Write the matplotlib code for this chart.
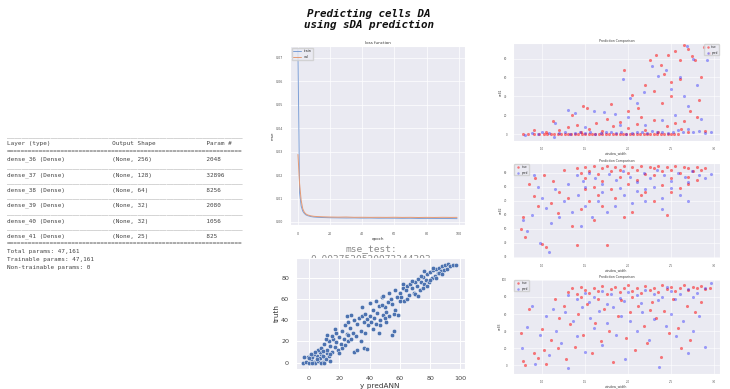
import matplotlib
matplotlib.use("Agg")
import matplotlib.pyplot as plt
import seaborn as sns

sns.set_style("darkgrid")
plt.rcParams['font.family'] = ['DejaVu Sans']

# ---- model summary (keras) ----
layer_names = ["dense_36 (Dense)", "dense_37 (Dense)", "dense_38 (Dense)",
               "dense_39 (Dense)", "dense_40 (Dense)", "dense_41 (Dense)"]
layer_shapes = ["(None, 256)", "(None, 128)", "(None, 64)",
                "(None, 32)", "(None, 32)", "(None, 25)"]
layer_params = ["2048", "32896", "8256", "2080", "1056", "825"]
summary_footer = ["Total params: 47,161", "Trainable params: 47,161",
                  "Non-trainable params: 0"]

# ---- loss history ----
epochs = [0, 1, 2, 3, 4, 5, 6, 7, 8, 10, 12, 15, 20, 25, 30, 35, 40, 45, 50,
          55, 60, 65, 70, 75, 80, 85, 90, 95, 99]
train_loss = [0.0735, 0.0125, 0.0068, 0.0046, 0.0036, 0.0030, 0.0027, 0.0025,
              0.0023, 0.0021, 0.0020, 0.0019, 0.0018, 0.00175, 0.0017, 0.00172,
              0.00165, 0.00168, 0.0016, 0.00162, 0.0016, 0.00155, 0.00158,
              0.0015, 0.00152, 0.0015, 0.00148, 0.00146, 0.00142]
val_loss = [0.0288, 0.0165, 0.0092, 0.0056, 0.0041, 0.0034, 0.0030, 0.0028,
            0.0026, 0.0024, 0.0023, 0.0022, 0.0021, 0.00205, 0.0021, 0.00198,
            0.002, 0.00196, 0.00198, 0.00195, 0.002, 0.00194, 0.00197, 0.0019,
            0.00196, 0.00192, 0.00198, 0.00194, 0.00196]
mse_test = "0.0037520520973344393"

# ---- prediction vs truth ----
y_pred_ann = [-4, -2, 0, 1, 2, 3, 4, 5, 6, 7, 8, 9, 10, -1, 0, 2, 3, 5, 7, 8, 11, 12, 6, 4, 9, -3, 1, 10, 13, 14,
              8, 10, 12, 13, 14, 15, 16, 17, 18, 19, 20, 11, 9, 15, 21, 22, 18, 23, 24, 14, 20, 26, 12, 17, 25,
              22, 24, 25, 26, 27, 28, 29, 30, 31, 32, 33, 28, 26, 30, 32, 35, 34, 36, 37, 38, 36, 38, 39, 37, 35, 34, 40, 41, 42, 40,
              42, 43, 44, 45, 46, 47, 48, 49, 50, 51, 52, 53, 54, 55, 56, 47, 49, 51, 53, 55, 57, 58, 59, 60, 44, 46, 57, 50, 48, 56,
              60, 61, 62, 63, 64, 65, 66, 67, 68, 69, 70, 71, 72, 73, 74, 75, 76, 77, 78, 79, 80, 81, 82, 83, 84, 85, 86, 87, 88, 89,
              90, 91, 92, 93, 95, 97, 65, 70, 75, 80, 72, 78, 84, 86, 68, 74, 76, 82, 62, 88]
truth = [0, 1, 0, 3, 5, 1, 0, 6, 2, 4, 8, 1, 5, 5, 4, 0, 8, 3, 10, 0, 3, 9, 12, 10, 6, 5, 8, 0, 6, 2,
         14, 18, 12, 20, 16, 10, 22, 15, 19, 12, 24, 22, 11, 25, 18, 14, 28, 22, 17, 8, 9, 20, 26, 32, 27,
         30, 35, 44, 38, 33, 45, 28, 40, 25, 36, 42, 22, 26, 10, 12, 44, 30, 38, 46, 41, 14, 13, 35, 28, 52, 20, 44, 38, 32, 56,
         50, 42, 58, 47, 53, 40, 62, 45, 52, 48, 57, 44, 60, 26, 30, 35, 63, 38, 66, 55, 50, 62, 45, 58, 36, 28, 68, 42, 54, 46,
         66, 62, 70, 58, 68, 72, 64, 74, 70, 66, 76, 72, 79, 68, 76, 81, 74, 78, 83, 76, 85, 80, 87, 82, 88, 84, 89, 86, 91, 87,
         92, 88, 93, 91, 92, 92, 60, 65, 70, 78, 63, 72, 80, 84, 77, 82, 86, 89, 74, 83]

# ---- prediction comparison panels (window_width, value) ----
cmp1_true = ([(x, 0) for x in [0.78, 0.84, 0.9, 0.96, 1.02, 1.06, 1.1, 1.14, 1.18, 1.22, 1.26, 1.3, 1.34, 1.38, 1.42,
                                 1.46, 1.5, 1.54, 1.58, 1.62, 1.66, 1.7, 1.74, 1.78, 1.82, 1.86, 1.9, 1.94, 1.98, 2.02,
                                 2.06, 2.1, 2.14, 2.18, 2.22, 2.26, 2.3, 2.34, 2.38, 2.42, 2.46, 2.5, 2.54, 2.58]]
             + [(1.12, 14), (1.2, 5), (1.3, 8), (1.4, 10), (1.55, 6), (1.63, 12), (1.7, 4), (1.82, 9), (1.9, 13),
                (2.0, 7), (2.1, 11), (2.2, 5), (2.3, 15), (2.45, 9), (2.55, 12), (2.62, 6), (2.7, 3), (2.8, 18),
                (2.9, 4), (0.9, 5), (1.05, 2), (1.45, 3), (1.75, 16), (2.15, 18), (2.35, 3), (2.65, 14),
                (1.35, 20), (1.48, 30), (1.52, 28), (1.8, 32), (1.95, 68), (2.05, 42), (2.12, 28), (2.2, 52),
                (2.25, 78), (2.32, 84), (2.38, 73), (2.42, 64), (2.47, 84), (2.5, 55), (2.55, 88), (2.6, 78),
                (2.65, 94), (2.7, 90), (2.74, 83), (2.78, 78), (2.83, 36), (2.88, 92), (2.94, 86), (2.5, 40),
                (2.3, 46), (2.6, 58), (2.72, 25), (2.85, 60), (2.0, 25), (2.4, 33)])
cmp1_pred = [(0.8, -1), (0.88, 1), (0.95, 0), (1.0, 2), (1.08, 1), (1.14, -3), (1.2, 1), (1.26, 2), (1.32, 0),
             (1.38, 1), (1.44, 3), (1.5, 1), (1.56, 2), (1.62, 0), (1.68, 1), (1.74, 2), (1.8, 3), (1.86, 1),
             (1.92, 2), (1.98, 0), (2.04, 1), (2.1, 3), (2.16, 2), (2.22, 1), (2.28, 4), (2.34, 2), (2.4, 3),
             (2.46, 1), (2.52, 2), (2.58, 5), (2.64, 3), (2.7, 6), (2.76, 2), (2.82, 4), (2.9, 1), (2.97, 3),
             (1.15, 12), (1.3, 26), (1.38, 23), (1.6, 25), (1.72, 24), (1.85, 22), (1.94, 58), (2.02, 38),
             (2.1, 33), (2.18, 45), (2.28, 72), (2.35, 62), (2.44, 68), (2.5, 48), (2.6, 60), (2.68, 93),
             (2.75, 80), (2.8, 52), (2.92, 78), (2.2, 10), (2.4, 15), (2.55, 20), (2.7, 30), (2.85, 16),
             (1.5, 8), (1.9, 10), (2.0, 18), (2.65, 40)]

cmp2_true = [(1.4, 93), (1.45, 90), (1.5, 94), (1.55, 91), (1.6, 95), (1.65, 89), (1.7, 93), (1.75, 95), (1.8, 91),
             (1.85, 94), (1.9, 92), (1.95, 95), (2.0, 90), (2.05, 94), (2.1, 92), (2.15, 95), (2.2, 89), (2.25, 94),
             (2.3, 93), (2.35, 95), (2.4, 91), (2.45, 94), (2.5, 92), (2.55, 95), (2.6, 90), (2.65, 94), (2.7, 93),
             (2.75, 91), (2.8, 94), (2.85, 92), (2.9, 93), (1.5, 86), (1.7, 84), (1.9, 87), (2.1, 85), (2.3, 88),
             (2.5, 86), (2.7, 87), (1.6, 80), (1.8, 78), (2.0, 82), (2.2, 76), (2.4, 81), (2.6, 79), (2.8, 85),
             (0.75, 50), (0.78, 58), (0.8, 44), (0.85, 82), (0.9, 73), (0.95, 66), (1.0, 39), (1.05, 37),
             (1.1, 68), (1.12, 84), (1.18, 61), (1.2, 76), (1.25, 92), (1.3, 72), (1.35, 52), (1.4, 38),
             (1.45, 64), (1.55, 70), (1.6, 56), (1.7, 66), (1.75, 38), (1.85, 72), (1.95, 58), (2.05, 62),
             (2.15, 74), (2.3, 70), (2.5, 76), (2.7, 82), (2.45, 60), (1.5, 78), (1.65, 74), (1.02, 88), (0.92, 86)]
cmp2_pred = [(1.4, 88), (1.48, 84), (1.55, 90), (1.62, 86), (1.7, 82), (1.78, 89), (1.86, 85), (1.94, 91),
             (2.02, 87), (2.1, 83), (2.18, 90), (2.26, 86), (2.34, 92), (2.42, 88), (2.5, 84), (2.58, 90),
             (2.66, 87), (2.74, 91), (2.82, 88), (2.9, 86), (2.96, 89), (1.5, 80), (1.7, 76), (1.9, 79),
             (2.1, 77), (2.3, 80), (2.5, 79), (2.7, 83), (2.4, 72), (2.2, 70),
             (0.78, 56), (0.82, 48), (0.88, 60), (0.95, 80), (1.0, 72), (1.05, 65), (1.1, 54), (1.15, 78),
             (1.2, 58), (1.25, 70), (1.3, 82), (1.35, 62), (1.42, 74), (1.5, 66), (1.58, 58), (1.65, 70),
             (1.75, 62), (1.85, 66), (1.95, 74), (2.05, 68), (2.2, 78), (2.4, 64), (2.6, 74), (1.08, 33),
             (0.98, 40), (1.45, 52), (2.7, 70), (0.9, 88)]

cmp3_true = [(1.3, 86), (1.35, 90), (1.4, 84), (1.45, 92), (1.5, 88), (1.55, 85), (1.6, 91), (1.65, 87),
             (1.7, 93), (1.75, 84), (1.8, 89), (1.85, 92), (1.9, 86), (1.95, 90), (2.0, 94), (2.05, 87),
             (2.1, 91), (2.15, 85), (2.2, 93), (2.25, 88), (2.3, 90), (2.35, 86), (2.4, 94), (2.45, 89),
             (2.5, 92), (2.55, 87), (2.6, 91), (2.65, 94), (2.7, 88), (2.75, 92), (2.8, 90), (2.85, 93),
             (2.9, 89), (2.95, 91),
             (0.75, 38), (0.78, 5), (0.8, 0), (0.85, 66), (0.9, 15), (0.95, 9), (1.0, 42), (1.02, 18), (1.05, 2),
             (1.1, 30), (1.15, 78), (1.18, 20), (1.2, 55), (1.25, 70), (1.28, 8), (1.32, 48), (1.38, 22),
             (1.42, 60), (1.48, 36), (1.52, 72), (1.58, 14), (1.62, 50), (1.68, 28), (1.72, 66), (1.78, 40),
             (1.82, 4), (1.88, 58), (1.92, 76), (1.98, 32), (2.02, 62), (2.08, 18), (2.12, 70), (2.18, 46),
             (2.22, 26), (2.28, 74), (2.32, 56), (2.38, 10), (2.42, 64), (2.48, 38), (2.52, 78), (2.58, 44),
             (2.62, 20), (2.68, 70), (2.72, 30), (2.78, 62), (2.85, 74), (1.45, 80), (1.65, 78), (2.05, 80),
             (2.25, 65)]
cmp3_pred = [(1.3, 82), (1.4, 78), (1.5, 85), (1.6, 80), (1.7, 87), (1.8, 83), (1.9, 79), (2.0, 86), (2.1, 82),
             (2.2, 88), (2.3, 84), (2.4, 80), (2.5, 87), (2.6, 83), (2.7, 89), (2.8, 85), (2.9, 90), (2.97, 96),
             (1.55, 74), (1.75, 72), (1.95, 75), (2.15, 73), (2.35, 76), (2.55, 78), (2.75, 80), (2.45, 92),
             (0.76, 20), (0.82, 45), (0.88, 70), (0.92, 2), (0.98, 35), (1.04, 58), (1.08, 12), (1.12, 66),
             (1.16, 40), (1.22, 26), (1.26, 62), (1.3, -3), (1.36, 52), (1.4, 34), (1.46, 68), (1.5, 16),
             (1.56, 56), (1.6, 44), (1.66, 64), (1.7, 24), (1.76, 50), (1.82, 68), (1.86, 36), (1.92, 58),
             (1.96, 8), (2.02, 52), (2.1, 40), (2.16, 62), (2.24, 30), (2.3, 54), (2.36, -2), (2.44, 46),
             (2.5, 60), (2.56, 34), (2.64, 52), (2.7, 14), (2.76, 40), (2.82, 58), (2.9, 22)]

W, H = 730, 389
fig = plt.figure(figsize=(W / 100, H / 100), dpi=100)
fig.patch.set_facecolor('white')


def box(l, t, r, b):
    # pixel box -> figure fraction rect
    return [l / W, 1 - b / H, (r - l) / W, (b - t) / H]


# title
fig.text(0.505, 1 - 19.5 / H, "Predicting cells DA\nusing sDA prediction", ha='center', va='center',
         family='DejaVu Sans Mono', weight='bold', style='italic', fontsize=7.8, linespacing=1.15, color='#111')

# keras summary as text
rows = ["_" * 65, f"{'Layer (type)':<29}{'Output Shape':<26}Param #", "=" * 65]
for i, (n, s, p) in enumerate(zip(layer_names, layer_shapes, layer_params)):
    rows.append(f"{n:<29}{s:<26}{p}")
    rows.append("_" * 65 if i < len(layer_names) - 1 else "=" * 65)
rows += summary_footer
for i, line in enumerate(rows):
    fig.text(7 / W, 1 - (136.3 + 7.69 * i) / H, line, family='DejaVu Sans Mono', fontsize=4.3,
             color='#444', va='center', ha='left')

# loss function
ax = fig.add_axes(box(290, 46, 465, 225))
ax.plot(epochs, train_loss, color='#7d9fd6', lw=0.7, label='train')
ax.plot(epochs, val_loss, color='#e59a74', lw=0.7, label='val')
ax.set_xlim(-4.95, 103.95)
ax.set_ylim(-0.0013, 0.0751)
ax.set_xticks([0, 20, 40, 60, 80, 100])
ax.set_yticks([0, 0.01, 0.02, 0.03, 0.04, 0.05, 0.06, 0.07])
ax.set_yticklabels([f"{v:.2f}" for v in ax.get_yticks()])
ax.tick_params(labelsize=2.3, pad=1.5, colors='#555')
ax.set_title("loss function", fontsize=2.9, pad=1.5, color='#333')
ax.set_xlabel("epoch", fontsize=2.9, labelpad=1, color='#333')
ax.set_ylabel("mse", fontsize=2.9, labelpad=1, color='#333')
ax.legend(loc='upper left', fontsize=2.4, handlelength=2.5, borderpad=0.4)
for gl in ax.get_xgridlines() + ax.get_ygridlines():
    gl.set_linewidth(0.5)

# mse test text, partly hidden behind next axes
fig.text(371 / W, 1 - 254.5 / H, "mse_test:\n" + mse_test, ha='center', va='center',
         family='DejaVu Sans Mono', fontsize=6.8, color='#888', linespacing=1.0, zorder=-1)

# prediction vs truth
ax2 = fig.add_axes(box(296, 258, 465, 369))
ax2.set_zorder(1)
ax2.scatter(y_pred_ann, truth, s=10, color='#4c72b0', edgecolor='white', linewidth=0.3)
ax2.set_xlim(-8.6, 103)
ax2.set_ylim(-6, 98.5)
ax2.set_xticks([0, 20, 40, 60, 80, 100])
ax2.set_yticks([0, 20, 40, 60, 80])
ax2.tick_params(labelsize=4.6, pad=1.5, colors='#444')
ax2.set_xlabel("y_predANN", fontsize=5.2, labelpad=1, color='#333')
ax2.set_ylabel("truth", fontsize=5.2, labelpad=1, color='#333')
for gl in ax2.get_xgridlines() + ax2.get_ygridlines():
    gl.set_linewidth(0.7)

# prediction comparison panels
panels = [
    (cmp1_true, cmp1_pred, (43, 141), (-7, 96.4), [0, 20, 40, 60, 80], 'upper right', 'cell1'),
    (cmp2_true, cmp2_pred, (163, 258), (29, 96.8), [30, 40, 50, 60, 70, 80, 90], 'upper left', 'cell2'),
    (cmp3_true, cmp3_pred, (279, 374), (-10, 101), [0, 20, 40, 60, 80, 100], 'upper left', 'cell3'),
]
for tr, pr, (top, bot), ylim, yt, loc, yl in panels:
    axp = fig.add_axes(box(513, top, 720, bot))
    tx, ty = zip(*tr)
    px, py = zip(*pr)
    axp.scatter(tx, ty, s=5, color='red', alpha=0.5, linewidth=0, label='true')
    axp.scatter(px, py, s=5, color='blue', alpha=0.35, linewidth=0, label='pred')
    axp.set_xlim(0.66, 3.07)
    axp.set_ylim(*ylim)
    axp.set_xticks([1.0, 1.5, 2.0, 2.5, 3.0])
    axp.set_yticks(yt)
    axp.tick_params(labelsize=1.9, pad=0.8, colors='#555')
    axp.set_title("Prediction Comparison", fontsize=2.3, pad=1.0, color='#444')
    axp.set_xlabel("window_width", fontsize=2.3, labelpad=0.3, color='#444')
    axp.set_ylabel(yl, fontsize=2.3, labelpad=0.5, color='#444')
    axp.legend(loc=loc, fontsize=2.0, markerscale=0.8, borderpad=0.3, handletextpad=0.3)
    for gl in axp.get_xgridlines() + axp.get_ygridlines():
        gl.set_linewidth(0.4)

fig.savefig("out.png", dpi=100, facecolor='white')
